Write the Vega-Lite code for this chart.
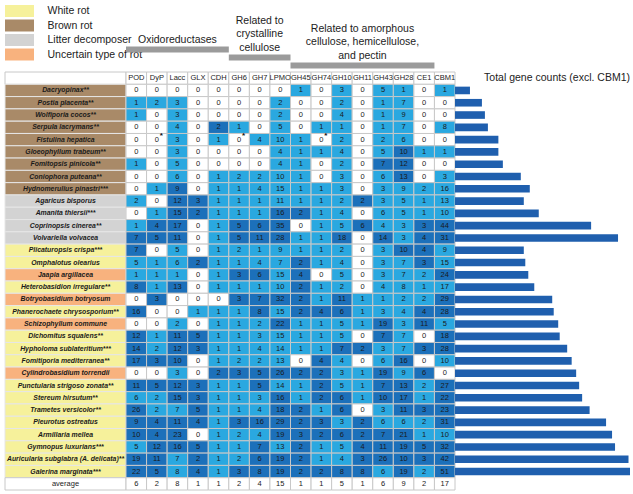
{
  "$schema": "https://vega.github.io/schema/vega-lite/v6.json",
  "padding": {"left": 4, "top": 0, "right": 4, "bottom": 4},
  "config": {"view": {"stroke": null}, "font": "Liberation Sans, Arial, sans-serif"},
  "datasets": {
    "rows": [
      {"species": "Dacryopinax**", "type": "Brown rot", "POD": 0, "DyP": 0, "Lacc": 0, "GLX": 0, "CDH": 0, "GH6": 0, "GH7": 0, "LPMO": 0, "GH45": 1, "GH74": 0, "GH10": 3, "GH11": 0, "GH43": 5, "GH28": 1, "CE1": 0, "CBM1": 1},
      {"species": "Postia placenta**", "type": "Brown rot", "POD": 1, "DyP": 2, "Lacc": 3, "GLX": 0, "CDH": 0, "GH6": 0, "GH7": 0, "LPMO": 2, "GH45": 0, "GH74": 0, "GH10": 2, "GH11": 0, "GH43": 1, "GH28": 7, "CE1": 0, "CBM1": 0},
      {"species": "Wolfiporia cocos**", "type": "Brown rot", "POD": 1, "DyP": 0, "Lacc": 3, "GLX": 0, "CDH": 0, "GH6": 0, "GH7": 0, "LPMO": 2, "GH45": 0, "GH74": 0, "GH10": 4, "GH11": 0, "GH43": 1, "GH28": 9, "CE1": 0, "CBM1": 0},
      {"species": "Serpula lacrymans**", "type": "Brown rot", "POD": 0, "DyP": 0, "Lacc": 4, "GLX": 0, "CDH": 2, "GH6": 1, "GH7": 0, "LPMO": 5, "GH45": 0, "GH74": 1, "GH10": 1, "GH11": 0, "GH43": 1, "GH28": 7, "CE1": 0, "CBM1": 8},
      {"species": "Fistulina hepatica", "type": "Brown rot", "POD": 0, "DyP": 0, "Lacc": 3, "GLX": 0, "CDH": 1, "GH6": 0, "GH7": 4, "LPMO": 10, "GH45": 1, "GH74": 0, "GH10": 2, "GH11": 0, "GH43": 2, "GH28": 6, "CE1": 0, "CBM1": 0},
      {"species": "Gloeophyllum trabeum**", "type": "Brown rot", "POD": 0, "DyP": 0, "Lacc": 3, "GLX": 0, "CDH": 0, "GH6": 0, "GH7": 0, "LPMO": 4, "GH45": 1, "GH74": 1, "GH10": 4, "GH11": 0, "GH43": 5, "GH28": 10, "CE1": 1, "CBM1": 1},
      {"species": "Fomitopsis pinicola**", "type": "Brown rot", "POD": 1, "DyP": 0, "Lacc": 5, "GLX": 0, "CDH": 0, "GH6": 0, "GH7": 0, "LPMO": 4, "GH45": 1, "GH74": 0, "GH10": 2, "GH11": 0, "GH43": 7, "GH28": 12, "CE1": 0, "CBM1": 0},
      {"species": "Coniophora puteana**", "type": "Brown rot", "POD": 0, "DyP": 0, "Lacc": 6, "GLX": 0, "CDH": 1, "GH6": 2, "GH7": 2, "LPMO": 10, "GH45": 1, "GH74": 0, "GH10": 3, "GH11": 0, "GH43": 6, "GH28": 13, "CE1": 0, "CBM1": 3},
      {"species": "Hydnomerulius pinastri***", "type": "Brown rot", "POD": 0, "DyP": 1, "Lacc": 9, "GLX": 0, "CDH": 1, "GH6": 1, "GH7": 4, "LPMO": 15, "GH45": 1, "GH74": 1, "GH10": 3, "GH11": 0, "GH43": 3, "GH28": 9, "CE1": 2, "CBM1": 16},
      {"species": "Agaricus bisporus", "type": "Litter decomposer", "POD": 2, "DyP": 0, "Lacc": 12, "GLX": 3, "CDH": 1, "GH6": 1, "GH7": 1, "LPMO": 11, "GH45": 1, "GH74": 1, "GH10": 2, "GH11": 2, "GH43": 3, "GH28": 5, "CE1": 1, "CBM1": 13},
      {"species": "Amanita thiersii***", "type": "Litter decomposer", "POD": 0, "DyP": 1, "Lacc": 15, "GLX": 2, "CDH": 1, "GH6": 1, "GH7": 1, "LPMO": 16, "GH45": 2, "GH74": 1, "GH10": 4, "GH11": 0, "GH43": 6, "GH28": 5, "CE1": 1, "CBM1": 10},
      {"species": "Coprinopsis cinerea**", "type": "Litter decomposer", "POD": 1, "DyP": 4, "Lacc": 17, "GLX": 0, "CDH": 1, "GH6": 5, "GH7": 6, "LPMO": 35, "GH45": 0, "GH74": 1, "GH10": 5, "GH11": 6, "GH43": 4, "GH28": 3, "CE1": 3, "CBM1": 44},
      {"species": "Volvariella volvacea", "type": "Litter decomposer", "POD": 7, "DyP": 5, "Lacc": 11, "GLX": 0, "CDH": 1, "GH6": 5, "GH7": 11, "LPMO": 28, "GH45": 1, "GH74": 1, "GH10": 18, "GH11": 0, "GH43": 14, "GH28": 3, "CE1": 4, "CBM1": 31},
      {"species": "Plicaturopsis crispa***", "type": "White rot", "POD": 7, "DyP": 0, "Lacc": 5, "GLX": 0, "CDH": 1, "GH6": 2, "GH7": 1, "LPMO": 9, "GH45": 1, "GH74": 1, "GH10": 2, "GH11": 0, "GH43": 3, "GH28": 10, "CE1": 4, "CBM1": 9},
      {"species": "Omphalotus olearius", "type": "White rot", "POD": 5, "DyP": 1, "Lacc": 6, "GLX": 2, "CDH": 1, "GH6": 1, "GH7": 4, "LPMO": 7, "GH45": 2, "GH74": 1, "GH10": 4, "GH11": 0, "GH43": 3, "GH28": 7, "CE1": 3, "CBM1": 15},
      {"species": "Jaapia argillacea", "type": "Uncertain type of rot", "POD": 1, "DyP": 1, "Lacc": 1, "GLX": 0, "CDH": 1, "GH6": 3, "GH7": 6, "LPMO": 15, "GH45": 4, "GH74": 0, "GH10": 5, "GH11": 0, "GH43": 3, "GH28": 7, "CE1": 2, "CBM1": 24},
      {"species": "Heterobasidion irregulare**", "type": "White rot", "POD": 8, "DyP": 1, "Lacc": 13, "GLX": 0, "CDH": 1, "GH6": 1, "GH7": 1, "LPMO": 10, "GH45": 2, "GH74": 1, "GH10": 2, "GH11": 0, "GH43": 4, "GH28": 8, "CE1": 1, "CBM1": 17},
      {"species": "Botryobasidium botryosum", "type": "Uncertain type of rot", "POD": 0, "DyP": 3, "Lacc": 0, "GLX": 0, "CDH": 0, "GH6": 3, "GH7": 7, "LPMO": 32, "GH45": 2, "GH74": 1, "GH10": 11, "GH11": 1, "GH43": 1, "GH28": 2, "CE1": 2, "CBM1": 29},
      {"species": "Phanerochaete chrysosporium**", "type": "White rot", "POD": 16, "DyP": 0, "Lacc": 0, "GLX": 1, "CDH": 1, "GH6": 1, "GH7": 8, "LPMO": 15, "GH45": 2, "GH74": 4, "GH10": 6, "GH11": 1, "GH43": 3, "GH28": 4, "CE1": 4, "CBM1": 28},
      {"species": "Schizophyllum commune", "type": "Uncertain type of rot", "POD": 0, "DyP": 0, "Lacc": 2, "GLX": 0, "CDH": 1, "GH6": 1, "GH7": 2, "LPMO": 22, "GH45": 1, "GH74": 1, "GH10": 5, "GH11": 1, "GH43": 19, "GH28": 3, "CE1": 11, "CBM1": 5},
      {"species": "Dichomitus squalens**", "type": "White rot", "POD": 12, "DyP": 1, "Lacc": 11, "GLX": 5, "CDH": 1, "GH6": 1, "GH7": 3, "LPMO": 15, "GH45": 1, "GH74": 1, "GH10": 5, "GH11": 0, "GH43": 7, "GH28": 7, "CE1": 0, "CBM1": 18},
      {"species": "Hypholoma sublateritium***", "type": "White rot", "POD": 14, "DyP": 2, "Lacc": 12, "GLX": 3, "CDH": 1, "GH6": 1, "GH7": 4, "LPMO": 14, "GH45": 1, "GH74": 1, "GH10": 7, "GH11": 2, "GH43": 3, "GH28": 7, "CE1": 3, "CBM1": 28},
      {"species": "Fomitiporia mediterranea**", "type": "White rot", "POD": 17, "DyP": 3, "Lacc": 10, "GLX": 0, "CDH": 1, "GH6": 2, "GH7": 2, "LPMO": 13, "GH45": 0, "GH74": 4, "GH10": 4, "GH11": 0, "GH43": 6, "GH28": 16, "CE1": 0, "CBM1": 10},
      {"species": "Cylindrobasidium torrendii", "type": "Uncertain type of rot", "POD": 0, "DyP": 0, "Lacc": 3, "GLX": 0, "CDH": 2, "GH6": 3, "GH7": 5, "LPMO": 26, "GH45": 2, "GH74": 2, "GH10": 3, "GH11": 1, "GH43": 19, "GH28": 9, "CE1": 6, "CBM1": 0},
      {"species": "Punctularia strigoso zonata**", "type": "White rot", "POD": 11, "DyP": 5, "Lacc": 12, "GLX": 3, "CDH": 1, "GH6": 1, "GH7": 5, "LPMO": 14, "GH45": 1, "GH74": 2, "GH10": 5, "GH11": 1, "GH43": 7, "GH28": 13, "CE1": 2, "CBM1": 27},
      {"species": "Stereum hirsutum**", "type": "White rot", "POD": 6, "DyP": 2, "Lacc": 15, "GLX": 3, "CDH": 1, "GH6": 1, "GH7": 3, "LPMO": 16, "GH45": 1, "GH74": 2, "GH10": 6, "GH11": 1, "GH43": 10, "GH28": 17, "CE1": 1, "CBM1": 22},
      {"species": "Trametes versicolor**", "type": "White rot", "POD": 26, "DyP": 2, "Lacc": 7, "GLX": 5, "CDH": 1, "GH6": 1, "GH7": 4, "LPMO": 18, "GH45": 2, "GH74": 1, "GH10": 6, "GH11": 0, "GH43": 3, "GH28": 11, "CE1": 3, "CBM1": 23},
      {"species": "Pleurotus ostreatus", "type": "White rot", "POD": 9, "DyP": 4, "Lacc": 11, "GLX": 4, "CDH": 1, "GH6": 3, "GH7": 16, "LPMO": 29, "GH45": 2, "GH74": 3, "GH10": 3, "GH11": 2, "GH43": 6, "GH28": 6, "CE1": 2, "CBM1": 31},
      {"species": "Armillaria mellea", "type": "White rot", "POD": 10, "DyP": 4, "Lacc": 23, "GLX": 0, "CDH": 1, "GH6": 2, "GH7": 4, "LPMO": 19, "GH45": 3, "GH74": 2, "GH10": 6, "GH11": 2, "GH43": 7, "GH28": 21, "CE1": 1, "CBM1": 10},
      {"species": "Gymnopus luxurians***", "type": "White rot", "POD": 5, "DyP": 12, "Lacc": 16, "GLX": 5, "CDH": 1, "GH6": 1, "GH7": 7, "LPMO": 13, "GH45": 2, "GH74": 1, "GH10": 5, "GH11": 4, "GH43": 11, "GH28": 19, "CE1": 5, "CBM1": 32},
      {"species": "Auricularia subglabra (A. delicata)**", "type": "White rot", "POD": 19, "DyP": 11, "Lacc": 7, "GLX": 2, "CDH": 1, "GH6": 2, "GH7": 6, "LPMO": 19, "GH45": 2, "GH74": 1, "GH10": 4, "GH11": 3, "GH43": 26, "GH28": 10, "CE1": 3, "CBM1": 42},
      {"species": "Galerina marginata***", "type": "White rot", "POD": 22, "DyP": 5, "Lacc": 8, "GLX": 4, "CDH": 1, "GH6": 3, "GH7": 8, "LPMO": 19, "GH45": 2, "GH74": 2, "GH10": 8, "GH11": 8, "GH43": 6, "GH28": 19, "CE1": 2, "CBM1": 51},
      {"species": "average", "type": "average", "POD": 6, "DyP": 2, "Lacc": 8, "GLX": 1, "CDH": 1, "GH6": 2, "GH7": 4, "LPMO": 15, "GH45": 1, "GH74": 1, "GH10": 5, "GH11": 1, "GH43": 6, "GH28": 9, "CE1": 2, "CBM1": 17}
    ],
    "groups": [
      {"label": "Oxidoreductases", "from": "POD", "to": "CDH", "center": "Lacc", "level": 1},
      {"label": "Related to\ncrystalline\ncellulose", "from": "GH6", "to": "LPMO", "center": "GH7", "level": 2},
      {"label": "Related to amorphous\ncellulose, hemicellulose,\nand pectin", "from": "GH45", "to": "CE1", "center": "GH11", "level": 3}
    ],
    "notes": [
      {"species": "Fistulina hepatica", "gene": "DyP"},
      {"species": "Fistulina hepatica", "gene": "GH6"},
      {"species": "Fistulina hepatica", "gene": "GH74"}
    ]
  },
  "spacing": 0,
  "bounds": "flush",
  "resolve": {"scale": {"color": "independent"}, "legend": {"color": "independent"}},
  "hconcat": [
    {
      "width": 121,
      "height": 490,
      "data": {"name": "rows"},
      "layer": [
        {
          "transform": [{"aggregate": [{"op": "count", "as": "n"}]}],
          "mark": {"type": "rect", "fill": "white", "stroke": "#c8c8c8", "strokeWidth": 1},
          "encoding": {
            "y": {"datum": "header", "type": "nominal", "axis": null,
              "scale": {"domain": ["t1", "t2", "t3", "t4", "t5", "header", "Dacryopinax**", "Postia placenta**", "Wolfiporia cocos**", "Serpula lacrymans**", "Fistulina hepatica", "Gloeophyllum trabeum**", "Fomitopsis pinicola**", "Coniophora puteana**", "Hydnomerulius pinastri***", "Agaricus bisporus", "Amanita thiersii***", "Coprinopsis cinerea**", "Volvariella volvacea", "Plicaturopsis crispa***", "Omphalotus olearius", "Jaapia argillacea", "Heterobasidion irregulare**", "Botryobasidium botryosum", "Phanerochaete chrysosporium**", "Schizophyllum commune", "Dichomitus squalens**", "Hypholoma sublateritium***", "Fomitiporia mediterranea**", "Cylindrobasidium torrendii", "Punctularia strigoso zonata**", "Stereum hirsutum**", "Trametes versicolor**", "Pleurotus ostreatus", "Armillaria mellea", "Gymnopus luxurians***", "Auricularia subglabra (A. delicata)**", "Galerina marginata***", "average"], "paddingInner": 0, "paddingOuter": 0.4285, "align": 1, "round": false}}
          }
        },
        {
          "transform": [{"filter": "datum.species !== 'average'"}],
          "mark": {"type": "rect", "stroke": "#e6e6e6", "strokeWidth": 1},
          "encoding": {
            "y": {"field": "species", "type": "nominal", "axis": null},
            "color": {"field": "type", "type": "nominal",
              "scale": {"domain": ["White rot", "Brown rot", "Litter decomposer", "Uncertain type of rot"], "range": ["#f6f19b", "#a98a68", "#d3d3d3", "#f8b27e"]},
              "legend": {"orient": "none", "legendX": 0, "legendY": 5, "title": null, "padding": 0,
                "symbolType": "M-2.42,-1H2.42V1H-2.42Z", "symbolSize": 144, "symbolStrokeWidth": 0, "symbolOpacity": 1,
                "symbolOffset": 8.5, "labelOffset": 22,
                "labelFontSize": 10.5, "labelColor": "#222222", "rowPadding": 2.5}}
          }
        },
        {
          "transform": [{"filter": "datum.species === 'average'"}],
          "mark": {"type": "rect", "fill": "white", "stroke": "#c8c8c8", "strokeWidth": 1},
          "encoding": {
            "y": {"field": "species", "type": "nominal", "axis": null}
          }
        },
        {
          "transform": [{"filter": "datum.species !== 'average'"}],
          "mark": {"type": "text", "fontSize": 6.9, "fontStyle": "italic", "fontWeight": "bold", "color": "#1a1a1a"},
          "encoding": {
            "y": {"field": "species", "type": "nominal", "axis": null},
            "text": {"field": "species"}
          }
        },
        {
          "transform": [{"filter": "datum.species === 'average'"}],
          "mark": {"type": "text", "fontSize": 7.5, "color": "#222222"},
          "encoding": {
            "y": {"field": "species", "type": "nominal", "axis": null},
            "text": {"field": "species"}
          }
        }
      ]
    },
    {
      "width": 329,
      "height": 490,
      "resolve": {"scale": {"y": "independent"}},
      "layer": [
        {
          "data": {"name": "rows"},
          "transform": [
            {"fold": ["POD", "DyP", "Lacc", "GLX", "CDH", "GH6", "GH7", "LPMO", "GH45", "GH74", "GH10", "GH11", "GH43", "GH28", "CE1", "CBM1"], "as": ["gene", "value"]},
            {"calculate": "datum.species === 'average' ? datum.value : null", "as": "avgv"},
            {"joinaggregate": [{"op": "max", "field": "avgv", "as": "avg"}], "groupby": ["gene"]},
            {"calculate": "(datum.species === 'average' || datum.value === 0) ? 'zero' : (datum.value > datum.avg ? 'high' : 'low')", "as": "level"}
          ],
          "encoding": {
            "x": {"field": "gene", "type": "nominal", "axis": null,
              "scale": {"domain": ["POD", "DyP", "Lacc", "GLX", "CDH", "GH6", "GH7", "LPMO", "GH45", "GH74", "GH10", "GH11", "GH43", "GH28", "CE1", "CBM1"], "paddingInner": 0, "paddingOuter": 0, "round": false}}
          },
          "layer": [
            {
              "transform": [{"filter": "datum.species === 'average'"}],
              "mark": {"type": "rect", "fill": "white", "stroke": "#c8c8c8", "strokeWidth": 1},
              "encoding": {
                "y": {"datum": "header", "type": "nominal", "axis": null,
                  "scale": {"domain": ["t1", "t2", "t3", "t4", "t5", "header", "Dacryopinax**", "Postia placenta**", "Wolfiporia cocos**", "Serpula lacrymans**", "Fistulina hepatica", "Gloeophyllum trabeum**", "Fomitopsis pinicola**", "Coniophora puteana**", "Hydnomerulius pinastri***", "Agaricus bisporus", "Amanita thiersii***", "Coprinopsis cinerea**", "Volvariella volvacea", "Plicaturopsis crispa***", "Omphalotus olearius", "Jaapia argillacea", "Heterobasidion irregulare**", "Botryobasidium botryosum", "Phanerochaete chrysosporium**", "Schizophyllum commune", "Dichomitus squalens**", "Hypholoma sublateritium***", "Fomitiporia mediterranea**", "Cylindrobasidium torrendii", "Punctularia strigoso zonata**", "Stereum hirsutum**", "Trametes versicolor**", "Pleurotus ostreatus", "Armillaria mellea", "Gymnopus luxurians***", "Auricularia subglabra (A. delicata)**", "Galerina marginata***", "average"], "paddingInner": 0, "paddingOuter": 0.4285, "align": 1, "round": false}}
              }
            },
            {
              "transform": [{"filter": "datum.species === 'average'"}],
              "mark": {"type": "text", "fontSize": 7.5, "color": "#222222"},
              "encoding": {
                "y": {"datum": "header", "type": "nominal", "axis": null},
                "text": {"field": "gene"}
              }
            },
            {
              "mark": {"type": "rect", "stroke": "#c8c8c8", "strokeWidth": 1},
              "encoding": {
                "y": {"field": "species", "type": "nominal", "axis": null},
                "color": {"field": "level", "type": "nominal", "legend": null,
                  "scale": {"domain": ["zero", "low", "high"], "range": ["#ffffff", "#2aa8e0", "#1c70ba"]}}
              }
            },
            {
              "mark": {"type": "text", "fontSize": 7.5, "color": "#1a1a1a"},
              "encoding": {
                "y": {"field": "species", "type": "nominal", "axis": null},
                "text": {"field": "value", "type": "quantitative"}
              }
            }
          ]
        },
        {
          "data": {"name": "notes"},
          "mark": {"type": "text", "text": "*", "dx": 4.5, "dy": -2.5, "fontSize": 8, "fontWeight": "bold", "color": "#111111"},
          "encoding": {
            "x": {"field": "gene", "type": "nominal", "axis": null},
            "y": {"field": "species", "type": "nominal", "axis": null,
              "scale": {"domain": ["t1", "t2", "t3", "t4", "t5", "header", "Dacryopinax**", "Postia placenta**", "Wolfiporia cocos**", "Serpula lacrymans**", "Fistulina hepatica", "Gloeophyllum trabeum**", "Fomitopsis pinicola**", "Coniophora puteana**", "Hydnomerulius pinastri***", "Agaricus bisporus", "Amanita thiersii***", "Coprinopsis cinerea**", "Volvariella volvacea", "Plicaturopsis crispa***", "Omphalotus olearius", "Jaapia argillacea", "Heterobasidion irregulare**", "Botryobasidium botryosum", "Phanerochaete chrysosporium**", "Schizophyllum commune", "Dichomitus squalens**", "Hypholoma sublateritium***", "Fomitiporia mediterranea**", "Cylindrobasidium torrendii", "Punctularia strigoso zonata**", "Stereum hirsutum**", "Trametes versicolor**", "Pleurotus ostreatus", "Armillaria mellea", "Gymnopus luxurians***", "Auricularia subglabra (A. delicata)**", "Galerina marginata***", "average"], "paddingInner": 0, "paddingOuter": 0.4285, "align": 1, "round": false}}
          }
        },
        {
          "data": {"name": "groups"},
          "transform": [
            {"calculate": "datum.level - (length(split(datum.label, '\\n')) - 1) * 1.6875", "as": "labelTop"}
          ],
          "layer": [
            {
              "mark": {"type": "rule", "stroke": "#9b9b9b", "strokeWidth": 6, "strokeCap": "butt"},
              "encoding": {
                "x": {"field": "from", "type": "nominal", "bandPosition": 0, "axis": null},
                "x2": {"field": "to", "bandPosition": 1},
                "y": {"field": "level", "type": "quantitative", "axis": null,
                  "scale": {"domain": [-5.19, 56.06], "reverse": true, "nice": false, "zero": false}}
              }
            },
            {
              "mark": {"type": "text", "baseline": "bottom", "dy": -5, "lineBreak": "\n", "lineHeight": 13.5, "fontSize": 10.5, "color": "#222222"},
              "encoding": {
                "x": {"field": "center", "type": "nominal", "axis": null},
                "y": {"field": "labelTop", "type": "quantitative", "axis": null},
                "text": {"field": "label"}
              }
            }
          ]
        }
      ]
    },
    {
      "width": 175,
      "height": 490,
      "data": {"name": "rows"},
      "layer": [
        {
          "transform": [
            {"filter": "datum.species !== 'average'"},
            {"fold": ["POD", "DyP", "Lacc", "GLX", "CDH", "GH6", "GH7", "LPMO", "GH45", "GH74", "GH10", "GH11", "GH43", "GH28", "CE1"], "as": ["gene", "value"]}
          ],
          "mark": {"type": "bar", "color": "#1f5fae", "height": {"band": 0.62}},
          "encoding": {
            "y": {"field": "species", "type": "nominal", "axis": null,
              "scale": {"domain": ["t1", "t2", "t3", "t4", "t5", "header", "Dacryopinax**", "Postia placenta**", "Wolfiporia cocos**", "Serpula lacrymans**", "Fistulina hepatica", "Gloeophyllum trabeum**", "Fomitopsis pinicola**", "Coniophora puteana**", "Hydnomerulius pinastri***", "Agaricus bisporus", "Amanita thiersii***", "Coprinopsis cinerea**", "Volvariella volvacea", "Plicaturopsis crispa***", "Omphalotus olearius", "Jaapia argillacea", "Heterobasidion irregulare**", "Botryobasidium botryosum", "Phanerochaete chrysosporium**", "Schizophyllum commune", "Dichomitus squalens**", "Hypholoma sublateritium***", "Fomitiporia mediterranea**", "Cylindrobasidium torrendii", "Punctularia strigoso zonata**", "Stereum hirsutum**", "Trametes versicolor**", "Pleurotus ostreatus", "Armillaria mellea", "Gymnopus luxurians***", "Auricularia subglabra (A. delicata)**", "Galerina marginata***", "average"], "paddingInner": 0, "paddingOuter": 0.4285, "align": 1, "round": false}},
            "x": {"aggregate": "sum", "field": "value", "type": "quantitative", "axis": null,
              "scale": {"domain": [0, 117], "nice": false, "zero": true}}
          }
        },
        {
          "transform": [{"aggregate": [{"op": "count", "as": "n"}]}],
          "mark": {"type": "text", "text": "Total gene counts (excl. CBM1)", "align": "right", "fontSize": 10.5, "color": "#222222"},
          "encoding": {
            "y": {"datum": "header", "type": "nominal", "axis": null},
            "x": {"datum": 117, "type": "quantitative"}
          }
        }
      ]
    }
  ]
}
